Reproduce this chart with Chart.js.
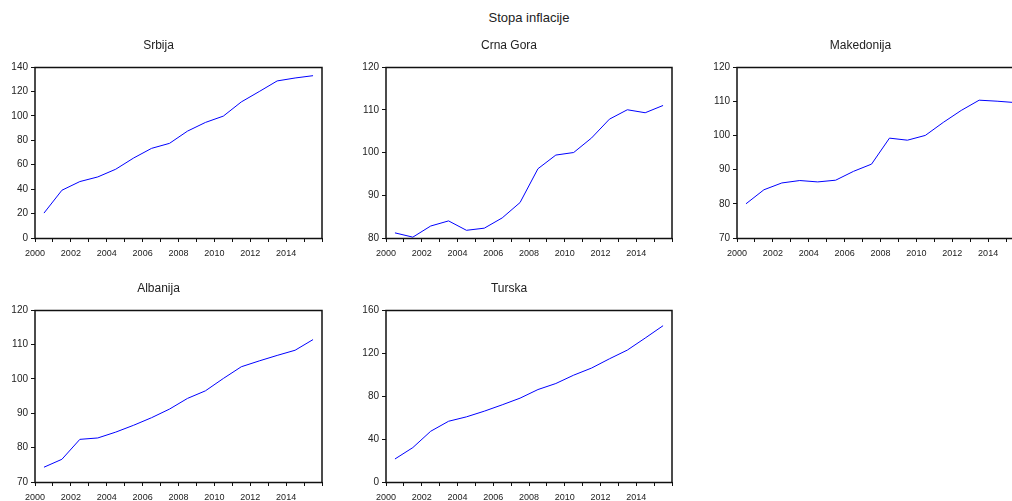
<!DOCTYPE html>
<html>
<head>
<meta charset="utf-8">
<script src="https://cdn.jsdelivr.net/npm/chart.js@4.4.1/dist/chart.umd.min.js"></script>
<style>
    body { margin: 0; width: 1012px; height: 501px; overflow: hidden; background: #fff; position: relative; }
    #mainTitle { position: absolute; left: 429px; width: 200px; top: 10px; text-align: center;
        font: 13px 'Liberation Sans', Arial, sans-serif; color: #222; }
    canvas { position: absolute; }
</style>
</head>
<body>
<div id="mainTitle">Stopa inflacije</div>
<canvas id="c1"></canvas>
<canvas id="c2"></canvas>
<canvas id="c3"></canvas>
<canvas id="c4"></canvas>
<canvas id="c5"></canvas>
<script>
// godine (godisnji podaci, crtano na sredini godine)
const years = [2000, 2001, 2002, 2003, 2004, 2005, 2006, 2007, 2008, 2009, 2010, 2011, 2012, 2013, 2014, 2015];

const srbija     = [20.4, 39.1, 46.2, 50.0, 56.3, 65.5, 73.4, 77.5, 87.5, 94.6, 99.8, 111.4, 119.9, 128.6, 131.0, 132.9];
const crnaGora   = [81.2, 80.2, 82.8, 84.0, 81.8, 82.3, 84.7, 88.3, 96.2, 99.4, 100.0, 103.4, 107.8, 110.0, 109.3, 111.0];
const makedonija = [80.0, 84.1, 86.1, 86.8, 86.4, 86.9, 89.5, 91.6, 99.2, 98.6, 100.0, 103.8, 107.3, 110.3, 110.0, 109.6];
const albanija   = [74.3, 76.6, 82.4, 82.8, 84.5, 86.5, 88.7, 91.2, 94.3, 96.5, 100.1, 103.5, 105.2, 106.8, 108.3, 111.4];
const turska     = [21.4, 32.0, 47.2, 56.5, 60.6, 65.9, 71.8, 78.0, 86.0, 91.6, 99.4, 106.0, 114.6, 122.7, 133.9, 145.4];

const FONT = "'Liberation Sans', Arial, sans-serif";

// okvir oko podrucja grafika
const framePlugin = {
    id: 'frame',
    afterDraw: function (chart) {
        const a = chart.chartArea;
        const ctx = chart.ctx;
        ctx.save();
        ctx.strokeStyle = '#111';
        ctx.lineWidth = 1.5;
        ctx.strokeRect(Math.round(a.left), Math.round(a.top) + 0.5,
            Math.round(a.right) - Math.round(a.left), Math.round(a.bottom) - Math.round(a.top));
        ctx.restore();
    }
};

function makePanel(id, title, values, yMin, yMax, yStep, L, T, R, B) {
    const canvas = document.getElementById(id);
    const w = R - L + 50;
    const h = B - T + 65;
    canvas.width = w;
    canvas.height = h;
    canvas.style.left = (L - 40) + 'px';
    canvas.style.top = (T - 40) + 'px';
    canvas.style.width = w + 'px';
    canvas.style.height = h + 'px';

    new Chart(canvas.getContext('2d'), {
        type: 'line',
        data: {
            datasets: [{
                data: years.map((y, i) => ({ x: y + 0.5, y: values[i] })),
                borderColor: '#0000ff',
                borderWidth: 1,
                pointRadius: 0,
                tension: 0,
                fill: false
            }]
        },
        options: {
            responsive: false,
            animation: false,
            layout: { padding: { top: 0, left: 0, right: 10, bottom: 0 } },
            plugins: {
                legend: { display: false },
                tooltip: { enabled: false },
                title: {
                    display: true,
                    text: title,
                    color: '#222',
                    font: { family: FONT, size: 12, weight: 'normal', lineHeight: 1.2 },
                    padding: { top: 11.8, bottom: 13.8 }
                }
            },
            scales: {
                x: {
                    type: 'linear',
                    min: 2000,
                    max: 2016,
                    afterFit: function (scale) { scale.height = 25; },
                    border: { display: false },
                    grid: { drawOnChartArea: false, drawTicks: true, tickLength: 4, color: '#111' },
                    ticks: {
                        stepSize: 1,
                        autoSkip: false,
                        maxRotation: 0,
                        padding: 6,
                        color: '#222',
                        font: { family: FONT, size: 9 },
                        callback: function (v) { return (v % 2 === 0 && v < 2016) ? String(v) : ''; }
                    }
                },
                y: {
                    min: yMin,
                    max: yMax,
                    afterFit: function (scale) { scale.width = 40; },
                    border: { display: false },
                    grid: { drawOnChartArea: false, drawTicks: true, tickLength: 4, color: '#111' },
                    ticks: {
                        stepSize: yStep,
                        padding: 3,
                        color: '#222',
                        font: { family: FONT, size: 10 }
                    }
                }
            }
        },
        plugins: [framePlugin]
    });
}

makePanel('c1', 'Srbija', srbija, 0, 140, 20, 35, 67, 322, 238);
makePanel('c2', 'Crna Gora', crnaGora, 80, 120, 10, 386, 67, 672, 238);
makePanel('c3', 'Makedonija', makedonija, 70, 120, 10, 737, 67, 1024, 238);
makePanel('c4', 'Albanija', albanija, 70, 120, 10, 35, 310, 322, 482);
makePanel('c5', 'Turska', turska, 0, 160, 40, 386, 310, 672, 482);
</script>
</body>
</html>
